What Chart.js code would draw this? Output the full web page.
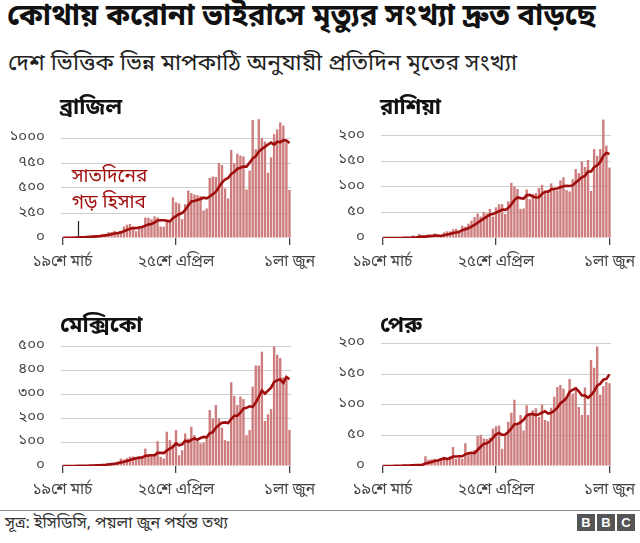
<!DOCTYPE html>
<html lang="bn">
<head>
  <meta charset="UTF-8">
  <title>কোথায় করোনা ভাইরাসে মৃত্যুর সংখ্যা দ্রুত বাড়ছে</title>
  <script src="https://cdn.jsdelivr.net/npm/chart.js"></script>
  <style>
    body {
      margin: 0;
      background: #fff;
      font-family: 'Noto Sans Bengali', 'Noto Serif Bengali', 'Lohit Bengali', 'FreeSans', 'Noto Sans', sans-serif;
      color: #222;
    }
    #wrap { position: relative; width: 640px; height: 543px; overflow: hidden; }
    h1 { position: absolute; left: 7px; top: -2px; margin: 0; font-size: 29.5px; line-height: 40px; font-weight: bold; color: #111; white-space: nowrap; }
    .sub { position: absolute; left: 8px; top: 48px; font-size: 23px; line-height: 32px; color: #222; white-space: nowrap; }
    .panel { position: absolute; width: 320px; height: 190px; }
    .panel canvas { position: absolute; left: 0; top: 0; }
    .panel .name { position: absolute; left: 60px; top: 3px; font-size: 22px; line-height: 28px; font-weight: bold; color: #111; z-index: 2; }
    .foot { position: absolute; left: 0; top: 510px; width: 640px; border-top: 1px solid #888; }
    .src { position: absolute; left: 5px; top: 513px; font-size: 16px; line-height: 22px; color: #333; }
    .bbc { position: absolute; right: 5px; top: 514px; display: flex; gap: 2px; }
    .bbc span { width: 18px; height: 17px; background: #555; color: #fff; font: bold 13px/17px Arial, 'Liberation Sans', sans-serif; text-align: center; }
  </style>
</head>
<body>
<div id="wrap">
  <h1>কোথায় করোনা ভাইরাসে মৃত্যুর সংখ্যা দ্রুত বাড়ছে</h1>
  <div class="sub">দেশ ভিত্তিক ভিন্ন মাপকাঠি অনুযায়ী প্রতিদিন মৃতের সংখ্যা</div>

  <div class="panel" style="left:0; top:92px;">
    <canvas id="brazil" width="320" height="190"></canvas>
    <div class="name">ব্রাজিল</div>
  </div>
  <div class="panel" style="left:320px; top:92px;">
    <canvas id="russia" width="320" height="190"></canvas>
    <div class="name">রাশিয়া</div>
  </div>
  <div class="panel" style="left:0; top:320px;">
    <canvas id="mexico" width="320" height="190"></canvas>
    <div class="name" style="top:-7px;">মেক্সিকো</div>
  </div>
  <div class="panel" style="left:320px; top:320px;">
    <canvas id="peru" width="320" height="190"></canvas>
    <div class="name" style="top:-7px;">পেরু</div>
  </div>

  <div class="foot"></div>
  <div class="src">সূত্র: ইসিডিসি, পয়লা জুন পর্যন্ত তথ্য</div>
  <div class="bbc"><span>B</span><span>B</span><span>C</span></div>
</div>

<script>
  // ১৯শে মার্চ থেকে ১লা জুন, প্রতিদিনের মৃত্যু
  const startDate = '2020-03-19';
  const dayCount = 75;
  const tickLabels = { 0: '১৯শে মার্চ', 37: '২৫শে এপ্রিল', 74: '১লা জুন' };

  const brazilDaily = [
    3, 3, 4, 7, 7, 9, 12, 11, 20, 15,
    22, 22, 23, 42, 40, 58, 60, 73, 54, 67,
    114, 133, 141, 115, 68, 99, 105, 204, 204, 188,
    217, 206, 115, 113, 166, 165, 407, 357, 346, 189,
    338, 474, 449, 435, 428, 421, 275, 296, 600, 615,
    610, 751, 730, 496, 396, 881, 749, 844, 824, 816,
    485, 674, 1179, 888, 1188, 1001, 965, 653, 807, 1039,
    1086, 1156, 1124, 956, 480
  ];
  const brazilAvg = [
    0.6, 1, 1.6, 2.6, 3.6, 4.9, 6.4, 7.6, 10, 11.6,
    13.7, 15.9, 17.9, 22.1, 26.3, 31.7, 38.1, 45.4, 50, 56.3,
    66.6, 79.9, 91.7, 99.6, 98.9, 105.3, 110.7, 123.6, 133.7, 140.4,
    155, 174.7, 177, 178.1, 172.7, 167.1, 198.4, 218.4, 238.4, 249,
    281.1, 325.1, 365.7, 369.7, 379.9, 390.6, 402.9, 396.9, 414.9, 438.6,
    463.6, 509.7, 553.9, 585.4, 599.7, 639.9, 659, 692.4, 702.9, 715.1,
    713.6, 753.3, 795.9, 815.7, 864.9, 890.1, 911.4, 935.4, 954.4, 934.4,
    962.7, 958.1, 975.7, 974.4, 949.7
  ];

  const russiaDaily = [
    0, 1, 0, 0, 0, 0, 0, 1, 1, 1,
    5, 0, 8, 2, 2, 7, 4, 9, 2, 2,
    11, 13, 13, 17, 18, 12, 24, 22, 28, 34,
    41, 48, 42, 51, 48, 57, 42, 60, 66, 66,
    47, 72, 108, 101, 96, 57, 58, 95, 76, 86,
    88, 98, 104, 88, 94, 107, 96, 93, 113, 119,
    94, 91, 115, 135, 127, 150, 139, 153, 92, 174,
    161, 174, 232, 181, 138
  ];
  const russiaAvg = [
    0, 0.1, 0.1, 0.1, 0.1, 0.1, 0.1, 0.3, 0.3, 0.4,
    1.1, 1.1, 2.3, 2.6, 2.7, 3.6, 4, 4.6, 4.9, 4,
    5.3, 6.9, 7.7, 9.6, 10.9, 12.3, 15.4, 17, 19.1, 22.1,
    25.6, 29.9, 34.1, 38, 41.7, 45.9, 47, 49.7, 52.3, 55.7,
    55.1, 58.6, 65.9, 74.3, 79.4, 78.1, 77, 83.9, 84.4, 81.3,
    79.4, 79.7, 86.4, 90.7, 90.6, 95, 96.4, 97.1, 99.3, 101.4,
    102.3, 101.9, 103, 108.6, 113.4, 118.7, 121.6, 130, 130.1, 138.6,
    142.3, 149, 160.7, 166.7, 164.6
  ];

  const mexicoDaily = [
    1, 0, 0, 0, 1, 2, 1, 2, 3, 4,
    4, 4, 4, 8, 8, 13, 13, 14, 19, 31,
    27, 33, 39, 40, 38, 36, 38, 73, 45, 45,
    43, 104, 38, 31, 143, 108, 90, 150, 45, 66,
    136, 115, 164, 129, 115, 94, 98, 122, 234, 199,
    255, 199, 160, 108, 104, 350, 293, 255, 290, 280,
    129, 150, 332, 420, 420, 478, 188, 216, 238, 500,
    465, 451, 371, 364, 151
  ];
  const mexicoAvg = [
    0.1, 0.1, 0.1, 0.1, 0.3, 0.6, 0.7, 0.9, 1.3, 1.9,
    2.4, 2.9, 3.1, 4.1, 5, 6.4, 7.7, 9.1, 11.3, 15.1,
    17.9, 21.4, 25.1, 29, 32.4, 34.9, 35.9, 42.4, 44.1, 45,
    45.4, 54.9, 55.1, 54.1, 64.1, 73.1, 79.6, 94.9, 86.4, 90.4,
    105.4, 101.4, 109.4, 115, 110, 117, 121.6, 119.6, 136.6, 141.6,
    159.6, 171.6, 181, 182.4, 179.9, 196.4, 209.9, 209.9, 222.9, 240,
    243, 249.6, 247, 265.1, 288.7, 315.6, 302.4, 314.9, 327.4, 351.4,
    357.9, 362.3, 347, 372.1, 362.9
  ];

  const peruDaily = [
    0, 0, 1, 0, 1, 1, 0, 2, 1, 2,
    2, 3, 2, 3, 16, 10, 11, 12, 10, 13,
    15, 11, 16, 31, 12, 14, 12, 37, 23, 22,
    26, 49, 51, 45, 44, 46, 61, 65, 66, 28,
    50, 72, 87, 108, 69, 83, 58, 99, 86, 91,
    94, 80, 100, 75, 73, 95, 113, 129, 132, 126,
    110, 142, 118, 129, 96, 83, 128, 83, 173, 160,
    195, 116, 130, 137, 135
  ];
  const peruAvg = [
    0, 0, 0.1, 0.1, 0.3, 0.4, 0.4, 0.7, 0.9, 1,
    1.3, 1.6, 1.7, 2.1, 4.1, 5.4, 6.7, 8.1, 9.1, 10.7,
    12.4, 11.7, 12.6, 15.4, 15.4, 16, 15.9, 19, 20.7, 21.6,
    20.9, 26.1, 31.4, 36.1, 37.1, 40.4, 46, 51.6, 54, 50.7,
    51.4, 55.4, 61.3, 68, 68.6, 71, 75.3, 82.3, 84.3, 84.9,
    82.9, 84.4, 86.9, 89.3, 85.6, 86.9, 90, 95, 102.4, 106.1,
    111.1, 121, 124.3, 126.6, 121.9, 114.9, 115.1, 111.3, 115.7, 121.7,
    131.1, 134, 140.7, 142, 149.4
  ];

  const brazilTicks = [0, 250, 500, 750, 1000];
  const russiaTicks = [0, 50, 100, 150, 200];
  const mexicoTicks = [0, 100, 200, 300, 400, 500];
  const peruTicks = [0, 50, 100, 150, 200];

  const barColor = '#cd7d7d';
  const lineColor = '#a00d0d';
  const fontFam = "'Noto Sans Bengali', 'Noto Serif Bengali', 'Lohit Bengali', 'FreeSans', 'Noto Sans', sans-serif";

  Chart.defaults.font.family = fontFam;

  const dayLabels = [];
  for (let i = 0; i < dayCount; i++) {
    const d = new Date(startDate + 'T00:00:00Z');
    d.setUTCDate(d.getUTCDate() + i);
    dayLabels.push(d.toISOString().slice(0, 10));
  }

  const bnDigits = '০১২৩৪৫৬৭৮৯';
  function toBn(n) {
    return String(n).replace(/[0-9]/g, c => bnDigits[+c]);
  }

  // "সাতদিনের গড় হিসাব" লেখা আর ছোট দাগ, শুধু ব্রাজিলে
  const avgNote = {
    id: 'avgNote',
    afterDatasetsDraw(chart) {
      const { ctx, scales: { x, y } } = chart;
      ctx.save();
      ctx.strokeStyle = '#222';
      ctx.lineWidth = 1.2;
      const px = Math.round(x.getPixelForValue(5)) + 0.5;
      ctx.beginPath();
      ctx.moveTo(px, y.getPixelForValue(170));
      ctx.lineTo(px, y.getPixelForValue(14));
      ctx.stroke();
      ctx.fillStyle = lineColor;
      ctx.font = '19px ' + fontFam;
      ctx.textAlign = 'left';
      ctx.textBaseline = 'middle';
      const tx = x.getPixelForValue(3);
      ctx.fillText('সাতদিনের', tx, y.getPixelForValue(598));
      ctx.fillText('গড় হিসাব', tx, y.getPixelForValue(333));
      ctx.restore();
    }
  };

  function makePanel(id, daily, avg, yMax, yTicks, padTop, extra) {
    return new Chart(document.getElementById(id), {
      type: 'bar',
      data: {
        labels: dayLabels,
        datasets: [
          {
            type: 'line',
            data: avg,
            borderColor: lineColor,
            borderWidth: 2.6,
            pointRadius: 0,
            tension: 0,
            order: 0
          },
          {
            type: 'bar',
            data: daily,
            backgroundColor: barColor,
            barPercentage: 0.78,
            categoryPercentage: 1,
            order: 1
          }
        ]
      },
      options: {
        responsive: false,
        animation: false,
        events: [],
        layout: { padding: { top: padTop, right: 29, left: 0, bottom: 0 } },
        plugins: { legend: { display: false }, tooltip: { enabled: false } },
        scales: {
          x: {
            grid: { offset: false, drawOnChartArea: false, drawTicks: true, tickLength: 7, color: '#444', lineWidth: 1.3 },
            border: { display: false },
            ticks: {
              autoSkip: false,
              maxRotation: 0,
              padding: 9,
              color: '#444',
              font: { size: 15.5 },
              callback: (v, i) => tickLabels[i] ?? null
            },
            afterFit: s => {
              s.height = 44;
              s.paddingLeft = 0;
              s.paddingRight = 0;
            }
          },
          y: {
            min: 0,
            max: yMax,
            afterBuildTicks: s => { s.ticks = yTicks.map(v => ({ value: v })); },
            grid: {
              drawTicks: false,
              color: c => (c.tick && c.tick.value === 0) ? 'rgba(0,0,0,0)' : '#cfcfcf'
            },
            border: { display: false },
            ticks: { padding: 16, color: '#444', font: { size: 15 }, callback: v => toBn(v) },
            afterFit: s => {
              s.width = 61;
              s.paddingTop = 0;
              s.paddingBottom = 0;
            }
          }
        }
      },
      plugins: extra || []
    });
  }

  makePanel('brazil', brazilDaily, brazilAvg, 1200, brazilTicks, 26, [avgNote]);
  makePanel('russia', russiaDaily, russiaAvg, 235, russiaTicks, 26);
  makePanel('mexico', mexicoDaily, mexicoAvg, 510, mexicoTicks, 24);
  makePanel('peru', peruDaily, peruAvg, 203, peruTicks, 21.5);
</script>
</body>
</html>
